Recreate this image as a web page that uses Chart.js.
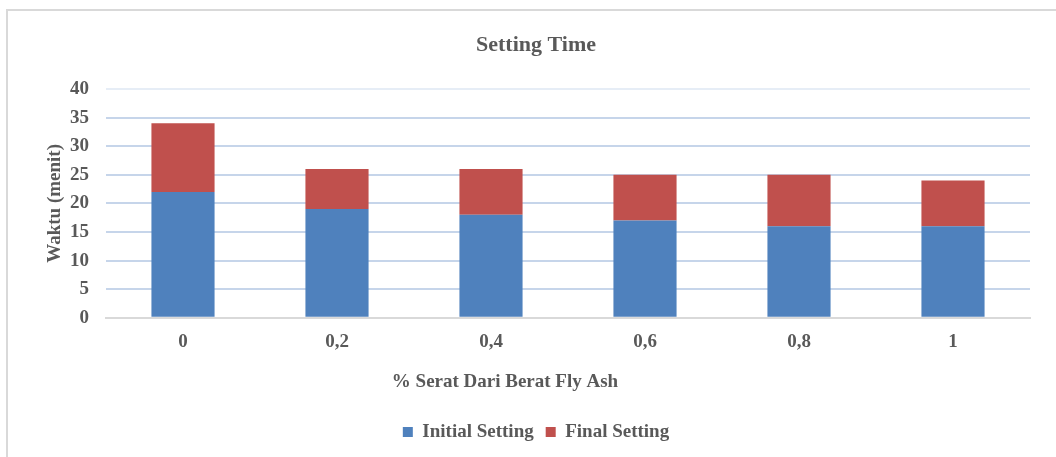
<!DOCTYPE html>
<html>
<head>
<meta charset="utf-8">
<script src="https://cdn.jsdelivr.net/npm/chart.js@4/dist/chart.umd.min.js"></script>
<style>
  html, body { margin: 0; padding: 0; background: #ffffff; }
  #wrap { position: relative; width: 1056px; height: 457px; overflow: hidden; }
  #frame { position: absolute; left: 6px; top: 9px; width: 1060px; height: 460px;
           border: 2px solid #d9d9d9; box-sizing: border-box; pointer-events: none; }
  canvas { position: absolute; left: 0; top: 0; }
</style>
</head>
<body>
<div id="wrap">
  <canvas id="chart" width="1056" height="457"></canvas>
  <div id="frame"></div>
</div>
<script>
// Fibre content (% of fly ash weight)
const categories = ['0', '0,2', '0,4', '0,6', '0,8', '1'];
// Initial setting time (minutes)
const initialSetting = [22, 19, 18, 17, 16, 16];
// Additional time up to final setting (minutes), stacked on top of the initial time
const finalSetting = [12, 7, 8, 8, 9, 8];
const yTicks = [0, 5, 10, 15, 20, 25, 30, 35, 40];
const xAxisTitle = '% Serat Dari Berat Fly Ash';

const FONT = '"Liberation Serif", "Times New Roman", serif';
const TEXT = '#595959';

// Horizontal axis caption, drawn below the category labels
const xCaption = {
  id: 'xCaption',
  afterDraw(chart) {
    const ctx = chart.ctx;
    ctx.save();
    ctx.fillStyle = TEXT;
    ctx.font = 'bold 19px ' + FONT;
    ctx.textAlign = 'center';
    ctx.textBaseline = 'middle';
    ctx.fillText(xAxisTitle, 505, chart.chartArea.bottom + 64);
    ctx.restore();
  }
};

new Chart(document.getElementById('chart'), {
  type: 'bar',
  data: {
    labels: categories,
    datasets: [
      { label: 'Initial Setting', data: initialSetting, backgroundColor: '#4f81bd',
        categoryPercentage: 1, barPercentage: 0.41 },
      { label: 'Final Setting', data: finalSetting, backgroundColor: '#c0504d',
        categoryPercentage: 1, barPercentage: 0.41 }
    ]
  },
  plugins: [xCaption],
  options: {
    responsive: false,
    animation: false,
    devicePixelRatio: 1,
    layout: { padding: { left: 42, right: 26, top: 0, bottom: 5.6 } },
    plugins: {
      title: {
        display: true, text: 'Setting Time', color: TEXT,
        font: { family: FONT, size: 22, weight: 'bold' },
        padding: { top: 32, bottom: 30.6 }
      },
      legend: {
        position: 'bottom',
        labels: {
          color: TEXT, boxWidth: 10, boxHeight: 10, padding: 12,
          font: { family: FONT, size: 19, weight: 'bold' }
        }
      },
      tooltip: { enabled: false }
    },
    scales: {
      x: {
        stacked: true,
        grid: { display: false, drawTicks: false },
        border: { display: true, color: '#d9d9d9', width: 2 },
        ticks: { color: TEXT, padding: 13, font: { family: FONT, size: 19, weight: 'bold' } },
        afterFit: (s) => { s.height = 92.6; }
      },
      y: {
        stacked: true,
        min: 0, max: 40,
        afterBuildTicks: (s) => { s.ticks = yTicks.map(v => ({ value: v })); },
        grid: {
          drawTicks: false,
          color: (c) => {
            if (!c.tick) return '#c6d5ea';
            if (c.tick.value === 0) return '#d9d9d9';
            if (c.tick.value === 40) return '#e6edf6';
            return '#c6d5ea';
          },
          lineWidth: 2
        },
        border: { display: false },
        ticks: { color: TEXT, padding: 17, font: { family: FONT, size: 19, weight: 'bold' } },
        title: {
          display: true, text: 'Waktu (menit)', color: TEXT,
          font: { family: FONT, size: 19, weight: 'bold' },
          padding: { top: 2, bottom: 0 }
        },
        afterFit: (s) => { s.width = 64; }
      }
    }
  }
});
</script>
</body>
</html>
